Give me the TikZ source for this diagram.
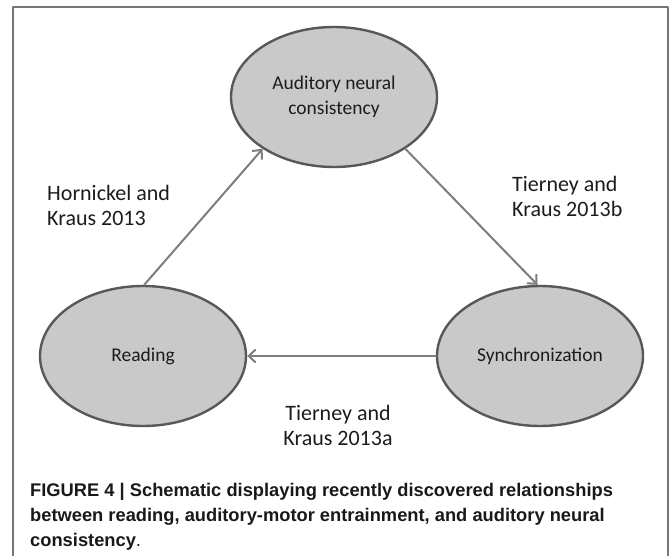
\documentclass[tikz,border=0pt]{standalone}
\usepackage{fontspec}
\setmainfont{Carlito}
\newfontfamily\capfont{Liberation Sans}
\usetikzlibrary{shapes.geometric,arrows.meta}
\definecolor{ovalgray}{RGB}{201,201,201}
\definecolor{rimgray}{RGB}{88,88,88}
\definecolor{arrowgray}{RGB}{125,125,125}
\definecolor{framegray}{RGB}{118,118,118}
\definecolor{inkgray}{RGB}{28,28,28}
\begin{document}
\begin{tikzpicture}[x=1pt, y=-1pt, line join=round, line cap=round,
    oval/.style={ellipse, draw=rimgray, fill=ovalgray, line width=2.4pt, minimum width=206pt, minimum height=140pt, inner sep=0pt, align=center, text=inkgray, font=\fontsize{19.5}{25}\selectfont},
    cite/.style={inner sep=0pt, text=inkgray, font=\fontsize{22}{25}\selectfont},
    link/.style={draw=arrowgray, line width=2pt, -{Straight Barb[length=7pt,width=13pt]}}]
  \useasboundingbox (0,0) rectangle (671,556);
  \draw[framegray, line width=1.5pt] (13,560) -- (13,7) -- (668,7) -- (668,560);
  \node[oval] (aud) at (334,97) {Auditory neural\\consistency};
  \node[oval] (read) at (143,356) {Reading};
  \node[oval] (sync) at (540,356) {Synchronization};
  \draw[link] (read.89) -- (aud.216);
  \draw[link] (aud.324) -- (sync.92);
  \draw[link] (sync.west) -- (read.east);
  \node[cite, align=left, anchor=north west] (hk) at (47,185) {Hornickel and\\Kraus 2013};
  \node[cite, align=left, anchor=north west] (tkb) at (512,176) {Tierney and\\Kraus 2013b};
  \node[cite, align=center, anchor=north] (tka) at (338,405) {Tierney and\\Kraus 2013a};
  \node[inner sep=0pt, align=left, anchor=north west, text=black!90,
    font=\capfont\fontsize{18.3}{25}\selectfont] (cap) at (30,483)
    {\bfseries FIGURE 4 | Schematic displaying recently discovered relationships\\
     \bfseries between reading, auditory-motor entrainment, and auditory neural\\
     \bfseries consistency{\mdseries.}};
\end{tikzpicture}
\end{document}
